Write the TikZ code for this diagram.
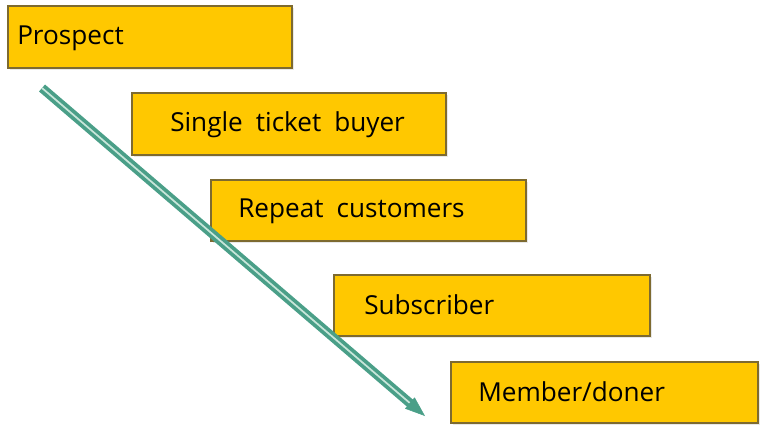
\documentclass[tikz,border=0pt]{standalone}
\usepackage{fontspec}
\setmainfont{Open Sans}
\usetikzlibrary{arrows.meta,calc,shadows}
\definecolor{boxfill}{HTML}{FFC800}
\definecolor{boxline}{HTML}{7D6A30}
\definecolor{flow}{HTML}{4A9F88}
\definecolor{flowin}{HTML}{C8E6DA}
\tikzset{
  stage/.style={draw=boxline, line width=1.2pt, fill=boxfill,
    drop shadow={shadow xshift=1.5pt, shadow yshift=-1.5pt, opacity=0.18}},
  label/.style={anchor=west, inner sep=0pt, font=\fontsize{19.6}{23}\selectfont},
  shaft/.style={draw=flow, line width=2.8pt, double=flowin, double distance=1.3pt},
  tip/.style={draw=flow, fill=flow, line width=0.4pt,
    -{Triangle[length=15pt, width=11pt]}}
}
\begin{document}
\begin{tikzpicture}[x=0.75pt, y=-0.75pt]
  \useasboundingbox (0,0) rectangle (760,425);
  % stage boxes, stepping down to the right
  \path[stage] (8,6) rectangle (292,68);
  \path[stage] (132,93) rectangle (446,155);
  \path[stage] (211,180) rectangle (526,241);
  \path[stage] (334,275) rectangle (650,336);
  \path[stage] (451,362) rectangle (758,423);
  % stage names
  \node[label] (p)  at (17,38)  {Prospect};
  \node[label] (st) at (170,125) {Single\hspace{0.5em}ticket\hspace{0.5em}buyer};
  \node[label] (rc) at (238,211) {Repeat\hspace{0.5em}customers};
  \node[label] (sb) at (364,305) {Subscriber};
  \node[label] (md) at (478,392) {Member/doner};
  % progression arrow
  \coordinate (s) at (42,88);
  \coordinate (e) at (425,416);
  \draw[shaft, shorten >=13pt] (s) -- (e);
  \draw[tip] ($(e)!15pt!(s)$) -- (e);
\end{tikzpicture}
\end{document}
